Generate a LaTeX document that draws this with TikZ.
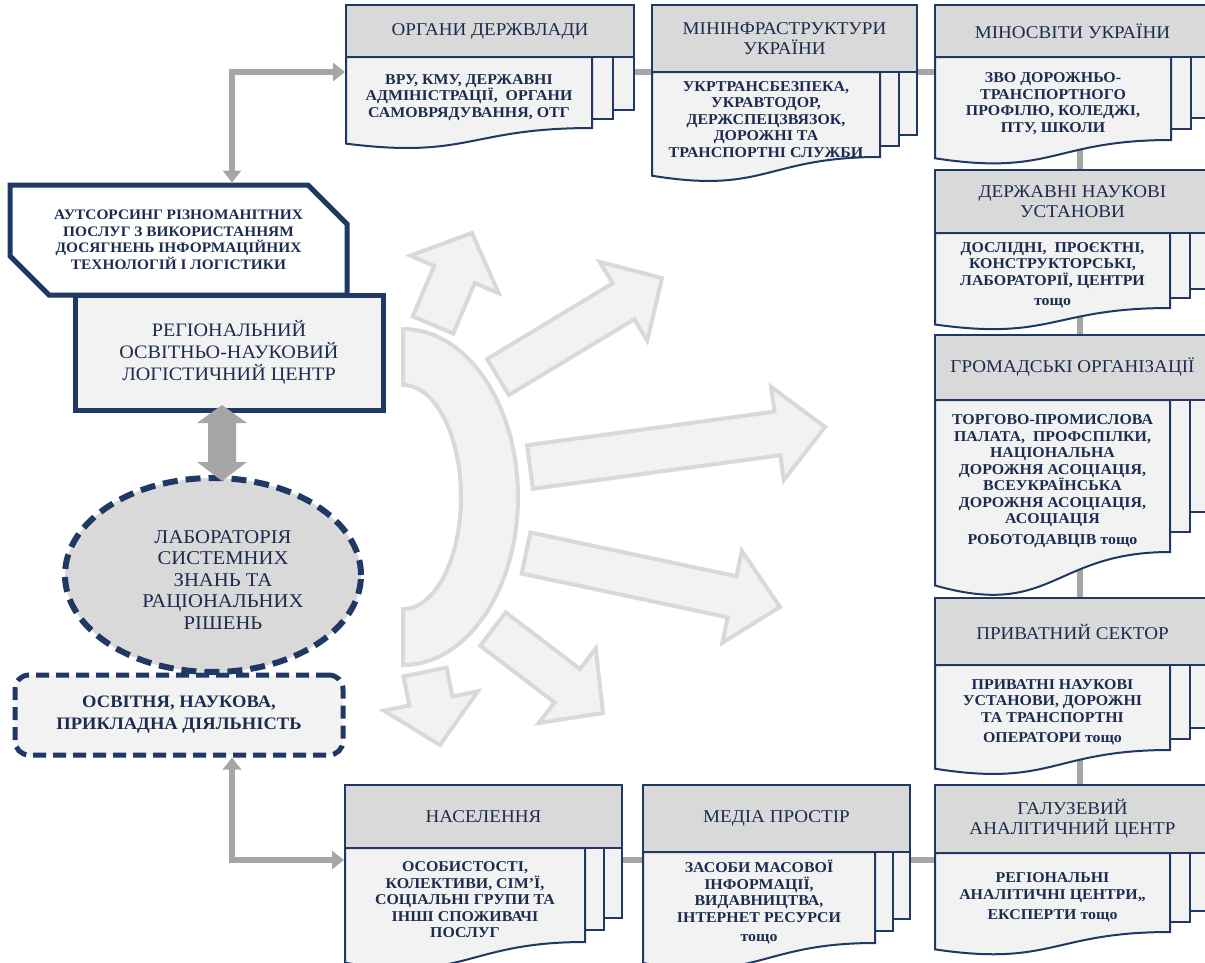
\documentclass[tikz,border=0pt]{standalone}
\usepackage{fontspec}
\setmainfont{Liberation Serif}[FakeStretch=1.06]
\usetikzlibrary{calc,arrows.meta,shapes.misc,shapes.geometric}
\definecolor{navy}{HTML}{1F3864}
\definecolor{hdr}{HTML}{D9D9D9}
\definecolor{bod}{HTML}{F2F2F2}
\definecolor{txt}{HTML}{1C2B4F}
\definecolor{conn}{HTML}{A6A6A6}
\definecolor{arrf}{HTML}{F2F2F2}
\definecolor{arrd}{HTML}{D9D9D9}
\pgfdeclarelayer{bg}
\pgfsetlayers{bg,main}
\tikzset{
 hdrtxt/.style={font=\fontsize{18}{19.5}\selectfont, text=txt, align=center},
 bodtxt/.style={font=\fontsize{15}{16.5}\selectfont\bfseries, text=txt, align=center},
 docline/.style={draw=navy, line width=2pt},
 connline/.style={draw=conn, line width=6pt},
 tips/.style={{Triangle[width=18pt,length=12pt]}-{Triangle[width=18pt,length=12pt]}},
 blockarr/.style={fill=arrf, draw=arrd, line width=4pt, line join=miter},
}
% #1 name, #2 xl, #3 yt, #4 xr, #5 yh, #6 xf, #7 yb, #8 header, #9 body
\newcommand\multidoc[9]{%
 \pgfmathsetmacro\mdh{#7-#5}%
 \pgfmathsetmacro\mdoff{0.13*\mdh}%
 \pgfmathsetmacro\mdwave{0.22*\mdh}%
 \pgfmathsetmacro\mdmid{(#6+#4)/2}%
 \pgfmathsetmacro\mdw{#6-#2}%
 \draw[docline,fill=bod] (#2+30,#5) rectangle (#4,#7-2*\mdoff);
 \draw[docline,fill=bod] (#2+20,#5) rectangle (\mdmid,#7-\mdoff);
 \draw[docline,fill=bod] (#2,#5) -- (#6,#5) -- (#6,#7) .. controls (#2+0.5*\mdw,#7) and (#2+0.5*\mdw,#7+2.0*\mdwave) .. (#2,#7+\mdwave) -- cycle;
 \node[docline,fill=hdr,hdrtxt,minimum width={#4-#2},minimum height={#5-#3},inner sep=0pt] (#1) at ({(#2+#4)/2},{(#3+#5)/2}) {#8};
 \node[bodtxt] (#1b) at ({(#2+#6)/2},{(#5+#7)/2+5}) {#9};
}
% #1 tail, #2 tip, #3 shaft half width, #4 head half width, #5 head length
\newcommand\blockarrow[5]{%
 \coordinate (ta) at (#1); \coordinate (ti) at (#2);
 \coordinate (hb) at ($(ti)!#5!(ta)$);
 \draw[blockarr] ($(ta)!#3!90:(ti)$) -- ($(hb)!#3!-90:(ta)$) -- ($(hb)!#4!-90:(ta)$) -- (ti) -- ($(hb)!#4!90:(ta)$) -- ($(hb)!#3!90:(ta)$) -- ($(ta)!#3!-90:(ti)$) -- cycle;}
\begin{document}
\begin{tikzpicture}[x=1pt,y=-1pt]
\useasboundingbox (0,0) rectangle (1205,962);
\clip (0,0) rectangle (1205,962);

% central fan
\draw[blockarr] (403,329) arc[start angle=-90,end angle=90,x radius=115,y radius=168] -- (403,609) arc[start angle=90,end angle=-90,x radius=58,y radius=112] -- cycle;
\blockarrow{433,325}{472,233}{22pt}{48pt}{45pt}
\blockarrow{498,377}{662,278}{21pt}{46pt}{45pt}
\blockarrow{530,467}{825,427}{22pt}{47pt}{48pt}
\blockarrow{526,553}{780,607}{21pt}{47pt}{49pt}
\blockarrow{493,629}{603,713}{21pt}{47pt}{45pt}
\blockarrow{425,672}{440,745}{22pt}{48pt}{45pt}

% top row
\multidoc{org}{346}{5}{634}{57}{592}{128}{ОРГАНИ ДЕРЖВЛАДИ}{ВРУ, КМУ, ДЕРЖАВНІ\\АДМІНІСТРАЦІЇ,\ \ ОРГАНИ\\САМОВРЯДУВАННЯ, ОТГ}
\multidoc{mininf}{652}{5}{917}{72}{880}{157}{МІНІНФРАСТРУКТУРИ\\УКРАЇНИ}{УКРТРАНСБЕЗПЕКА,\\УКРАВТОДОР,\\ДЕРЖСПЕЦЗВЯЗОК,\\ДОРОЖНІ ТА\\ТРАНСПОРТНІ СЛУЖБИ}
\multidoc{minosv}{935}{5}{1210}{57}{1171}{140}{МІНОСВІТИ УКРАЇНИ}{ЗВО ДОРОЖНЬО-\\ТРАНСПОРТНОГО\\ПРОФІЛЮ, КОЛЕДЖІ,\\ПТУ, ШКОЛИ}
% right column
\multidoc{derzh}{935}{170}{1210}{233}{1170}{308}{ДЕРЖАВНІ НАУКОВІ\\УСТАНОВИ}{ДОСЛІДНІ,\ \ ПРОЄКТНІ,\\КОНСТРУКТОРСЬКІ,\\ЛАБОРАТОРІЇ, ЦЕНТРИ\\[4pt]тощо}
\multidoc{grom}{935}{335}{1210}{400}{1170}{552}{ГРОМАДСЬКІ ОРГАНІЗАЦІЇ}{ТОРГОВО-ПРОМИСЛОВА\\ПАЛАТА,\ \ ПРОФСПІЛКИ,\\НАЦІОНАЛЬНА\\ДОРОЖНЯ АСОЦІАЦІЯ,\\ВСЕУКРАЇНСЬКА\\ДОРОЖНЯ АСОЦІАЦІЯ,\\АСОЦІАЦІЯ\\[4pt]РОБОТОДАВЦІВ тощо}
\multidoc{priv}{935}{598}{1210}{665}{1170}{750}{ПРИВАТНИЙ СЕКТОР}{ПРИВАТНІ НАУКОВІ\\УСТАНОВИ, ДОРОЖНІ\\ТА ТРАНСПОРТНІ\\[4pt]ОПЕРАТОРИ тощо}
\multidoc{gal}{935}{785}{1210}{853}{1170}{932}{ГАЛУЗЕВИЙ\\АНАЛІТИЧНИЙ ЦЕНТР}{РЕГІОНАЛЬНІ\\АНАЛІТИЧНІ ЦЕНТРИ,,\\[4pt]ЕКСПЕРТИ тощо}
% bottom row
\multidoc{nas}{345}{785}{622}{848}{585}{942}{НАСЕЛЕННЯ}{ОСОБИСТОСТІ,\\КОЛЕКТИВИ, СІМ’Ї,\\СОЦІАЛЬНІ ГРУПИ ТА\\ІНШІ СПОЖИВАЧІ\\ПОСЛУГ}
\multidoc{med}{643}{785}{910}{852}{875}{943}{МЕДІА ПРОСТІР}{ЗАСОБИ МАСОВОЇ\\ІНФОРМАЦІЇ,\\ВИДАВНИЦТВА,\\ІНТЕРНЕТ РЕСУРСИ\\[3pt]тощо}

% left side
\node[chamfered rectangle, chamfered rectangle corners={north east,south west},
 chamfered rectangle xsep=21pt, chamfered rectangle ysep=18pt,
 draw=navy, line width=5pt, fill=white, minimum width=337, minimum height=110, inner sep=0pt,
 font=\fontsize{14.5}{16.5}\selectfont\bfseries, text=txt, align=center] (aut) at (178.5,240)
 {АУТСОРСИНГ РІЗНОМАНІТНИХ\\ПОСЛУГ З ВИКОРИСТАННЯМ\\ДОСЯГНЕНЬ ІНФОРМАЦІЙНИХ\\ТЕХНОЛОГІЙ І ЛОГІСТИКИ};
\node[draw=navy, line width=5pt, fill=bod, minimum width=308, minimum height=115, inner sep=0pt,
 font=\fontsize{19}{22}\selectfont, text=txt, align=center] (reg) at (229,352.5)
 {РЕГІОНАЛЬНИЙ\\ОСВІТНЬО-НАУКОВИЙ\\ЛОГІСТИЧНИЙ ЦЕНТР};
\node[ellipse, draw=navy, line width=6pt, dash pattern=on 15pt off 8pt, fill=hdr,
 minimum width=296, minimum height=194, inner sep=0pt] (lab) at (213,575) {};
\node[font=\fontsize{19.5}{21.5}\selectfont, text=txt, align=center] (labt) at (223,580)
 {ЛАБОРАТОРІЯ\\СИСТЕМНИХ\\ЗНАНЬ ТА\\РАЦІОНАЛЬНИХ\\РІШЕНЬ};
\node[draw=navy, line width=5pt, dash pattern=on 13pt off 7pt, rounded corners=14pt, fill=bod,
 minimum width=328, minimum height=80, inner sep=0pt,
 font=\fontsize{17.5}{22}\selectfont\bfseries, text=txt, align=center] (osv) at (179,715)
 {ОСВІТНЯ, НАУКОВА,\\ПРИКЛАДНА ДІЯЛЬНІСТЬ};
% double arrow between centre and laboratory
\fill[conn] (222,405) -- (247,423) -- (236,423) -- (236,462) -- (247,462) -- (222,481)
 -- (197,462) -- (208,462) -- (208,423) -- (197,423) -- cycle;

% connectors
\coordinate (lx) at (232,0);
\coordinate (vx) at (1080,0);
\coordinate (ty) at (0,72);
\coordinate (by) at (0,860);
\begin{pgfonlayer}{bg}
\fill[white] (0,0) rectangle (1205,962);
\draw[connline,tips] (lx |- aut.north) |- (org.west |- ty);
\draw[connline] (org.east |- ty) -- (mininf.west |- ty);
\draw[connline] (mininf.east |- ty) -- (minosv.west |- ty);
\draw[connline] (vx |- minosv.south) -- (vx |- derzh.north);
\draw[connline] (vx |- derzh.south) -- (vx |- grom.north);
\draw[connline] (vx |- grom.south) -- (vx |- priv.north);
\draw[connline] (vx |- priv.south) -- (vx |- gal.north);
\draw[connline] (nas.east |- by) -- (med.west |- by);
\draw[connline] (med.east |- by) -- (gal.west |- by);
\draw[connline,tips] (lx |- osv.south) |- (nas.west |- by);
\end{pgfonlayer}
\end{tikzpicture}
\end{document}
